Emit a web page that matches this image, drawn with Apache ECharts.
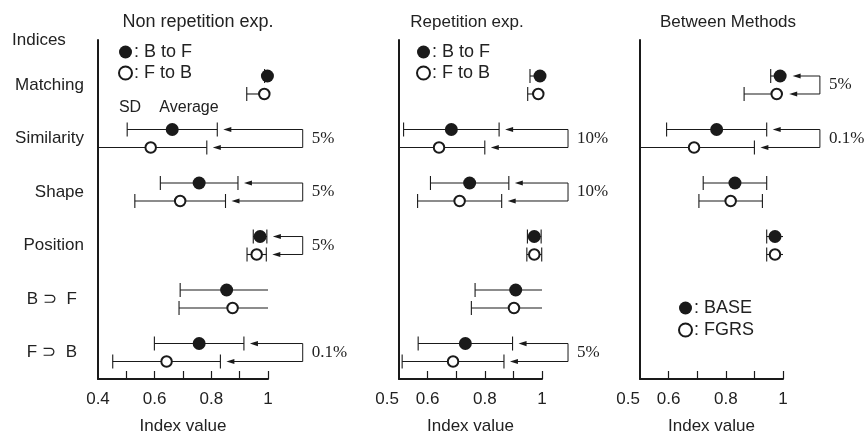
<!DOCTYPE html>
<html><head><meta charset="utf-8">
<script src="https://cdn.jsdelivr.net/npm/echarts@6/dist/echarts.min.js"></script>
<style>html,body{margin:0;padding:0;background:#fff}#c{width:867px;height:435px}</style>
</head><body><div id="c"></div>
<script>
// ---------- data ----------
const indices = ['Matching', 'Similarity', 'Shape', 'Position', 'B \u2283  F', 'F \u2283  B'];
const panelTitles = ['Non repetition exp.', 'Repetition exp.', 'Between Methods'];
const xLabels1 = [0.4, 0.6, 0.8, 1];
const xTicks1 = [0.5, 0.6, 0.7, 0.8, 0.9, 1.0];
const xLabels23 = [0.5, 0.6, 0.8, 1];
const xTicks23 = [0.6, 0.7, 0.8, 0.9, 1.0];

// Non repetition experiment (average, SD)
const nonRepBtoFMean = [0.998, 0.662, 0.757, 0.972, 0.854, 0.757];
const nonRepBtoFSd   = [0.010, 0.159, 0.137, 0.024, 0.164, 0.158];
const nonRepFtoBMean = [0.987, 0.586, 0.690, 0.960, 0.875, 0.642];
const nonRepFtoBSd   = [0.062, 0.198, 0.160, 0.034, 0.189, 0.190];
const nonRepSigRows   = [1, 2, 3, 5];
const nonRepSigLabels = ['5%', '5%', '5%', '0.1%'];

// Repetition experiment
const repBtoFMean = [0.993, 0.683, 0.747, 0.973, 0.908, 0.732];
const repBtoFSd   = [0.035, 0.167, 0.137, 0.024, 0.142, 0.165];
const repFtoBMean = [0.987, 0.640, 0.712, 0.973, 0.902, 0.689];
const repFtoBSd   = [0.037, 0.160, 0.147, 0.026, 0.149, 0.178];
const repSigRows   = [1, 2, 5];
const repSigLabels = ['10%', '10%', '5%'];

// Between methods
const baseMean = [0.990, 0.768, 0.832, 0.972];
const baseSd   = [0.033, 0.175, 0.111, 0.029];
const fgrsMean = [0.978, 0.689, 0.817, 0.972];
const fgrsSd   = [0.114, 0.211, 0.111, 0.029];
const betweenSigRows   = [0, 1];
const betweenSigLabels = ['5%', '0.1%'];

// ---------- layout / style ----------
const SANS = '"Liberation Sans", "DejaVu Sans", Arial, sans-serif';
const SERIF = '"Liberation Serif", "DejaVu Serif", serif';
const INK = '#1a1a1a';
const TXT = '#222';
const ROW_OFF = 0.168;          // vertical offset of the two markers in a row
const Y_MIN = -0.841, Y_MAX = 5.495;

const panels = [
  { left: 98, width: 170, min: 0.4, labels: xLabels1, ticks: xTicks1,
    fMean: nonRepBtoFMean, fSd: nonRepBtoFSd, oMean: nonRepFtoBMean, oSd: nonRepFtoBSd,
    names: ['B to F', 'F to B'], sigRows: nonRepSigRows, sigLabels: nonRepSigLabels, bracketX: 1.1225, titleX: 198 },
  { left: 399, width: 143, min: 0.5, labels: xLabels23, ticks: xTicks23,
    fMean: repBtoFMean, fSd: repBtoFSd, oMean: repFtoBMean, oSd: repFtoBSd,
    names: ['B to F', 'F to B'], sigRows: repSigRows, sigLabels: repSigLabels, bracketX: 1.091, titleX: 467 },
  { left: 640, width: 143, min: 0.5, labels: xLabels23, ticks: xTicks23,
    fMean: baseMean, fSd: baseSd, oMean: fgrsMean, oSd: fgrsSd,
    names: ['BASE', 'FGRS'], sigRows: betweenSigRows, sigLabels: betweenSigLabels, bracketX: 1.129, titleX: 728 }
];

const rowLabelStyle = { fontFamily: SANS, fontSize: 17, color: TXT };
const grid = [], xAxis = [], yAxis = [], series = [];
panels.forEach((p, i) => {
  grid.push({ left: p.left, width: p.width, top: 40, height: 339, containLabel: false, outerBoundsMode: 'none' });
  xAxis.push({
    type: 'value', gridIndex: i, min: p.min, max: 1,
    name: 'Index value', nameLocation: 'middle', nameGap: 39,
    nameTextStyle: { fontFamily: SANS, fontSize: 17, color: TXT },
    axisLine: { onZero: false, lineStyle: { color: INK, width: 2 } },
    axisTick: { show: true, inside: true, length: 8, customValues: p.ticks, lineStyle: { color: INK, width: 1.2 } },
    axisLabel: { customValues: p.labels, margin: 12, fontFamily: SANS, fontSize: 17, color: TXT,
      alignMinLabel: i === 0 ? 'center' : 'right' },
    splitLine: { show: false }
  });
  yAxis.push({
    type: 'value', gridIndex: i, inverse: true, min: Y_MIN, max: Y_MAX,
    axisLine: { show: true, onZero: false, lineStyle: { color: INK, width: 2 } },
    axisTick: { show: false },
    axisLabel: i === 0 ? { show: true, customValues: [0, 1, 2, 3, 4, 5], margin: 14,
      formatter: v => { const r = Math.round(v); const s = indices[r] || ''; return r >= 4 ? '{p|' + s + '}' : s; },
      rich: { p: Object.assign({ padding: [0, 7, 0, 0] }, rowLabelStyle) },
      fontFamily: SANS, fontSize: 17, color: TXT } : { show: false },
    splitLine: { show: false }
  });

  const xmin = p.min;
  const errItem = (means, sds, off) => means.map((m, r) => [m, sds[r], r + off]);
  const renderErr = (params, api) => {
    const m = api.value(0), sd = api.value(1), y = api.value(2);
    let lo = m - sd, hi = m + sd;
    const capLo = lo >= xmin, capHi = hi <= 1;
    lo = Math.max(lo, xmin); hi = Math.min(hi, 1);
    const a = api.coord([lo, y]), b = api.coord([hi, y]);
    const st = { stroke: INK, lineWidth: 1.1 };
    const ch = [{ type: 'line', shape: { x1: a[0], y1: a[1], x2: b[0], y2: b[1] }, style: st }];
    if (capLo) ch.push({ type: 'line', shape: { x1: a[0], y1: a[1] - 7, x2: a[0], y2: a[1] + 7 }, style: st });
    if (capHi) ch.push({ type: 'line', shape: { x1: b[0], y1: b[1] - 7, x2: b[0], y2: b[1] + 7 }, style: st });
    return { type: 'group', children: ch };
  };
  series.push({ type: 'custom', xAxisIndex: i, yAxisIndex: i, data: errItem(p.fMean, p.fSd, -ROW_OFF),
    renderItem: renderErr, z: 2, silent: true, clip: false });
  series.push({ type: 'custom', xAxisIndex: i, yAxisIndex: i, data: errItem(p.oMean, p.oSd, ROW_OFF),
    renderItem: renderErr, z: 2, silent: true, clip: false });

  series.push({ type: 'scatter', name: p.names[0], xAxisIndex: i, yAxisIndex: i,
    data: p.fMean.map((m, r) => [m, r - ROW_OFF]), symbolSize: 13,
    itemStyle: { color: INK, opacity: 1 }, z: 5, clip: false });
  series.push({ type: 'scatter', name: p.names[1], xAxisIndex: i, yAxisIndex: i,
    data: p.oMean.map((m, r) => [m, r + ROW_OFF]), symbolSize: 10.5,
    itemStyle: { color: '#fff', borderColor: INK, borderWidth: 2, opacity: 1 }, z: 5, clip: false });

  // significance brackets
  series.push({
    type: 'custom', xAxisIndex: i, yAxisIndex: i, clip: false, silent: true, z: 3,
    data: p.sigRows.map((r, k) => [r, k]),
    renderItem: (params, api) => {
      const r = api.value(0), k = api.value(1);
      const tip = (m, sd, y) => {
        const up = Math.min(1, m + sd);
        const xu = api.coord([up, y])[0];
        const xc = api.coord([m, y])[0] + 6.5;
        return Math.max(xu, xc) + 6;
      };
      const yF = api.coord([1, r - ROW_OFF])[1], yO = api.coord([1, r + ROW_OFF])[1];
      const tF = tip(p.fMean[r], p.fSd[r], r - ROW_OFF), tO = tip(p.oMean[r], p.oSd[r], r + ROW_OFF);
      const bx = api.coord([p.bracketX, r])[0];
      const st = { stroke: INK, lineWidth: 1, fill: null };
      const head = (t, y) => ({ type: 'polygon', shape: { points: [[t, y], [t + 8, y - 2.6], [t + 8, y + 2.6]] }, style: { fill: INK } });
      return { type: 'group', children: [
        { type: 'polyline', shape: { points: [[tF + 6, yF], [bx, yF], [bx, yO], [tO + 6, yO]] }, style: st },
        head(tF, yF), head(tO, yO),
        { type: 'text', x: bx + 9, y: (yF + yO) / 2, style: { text: p.sigLabels[k], fontFamily: SERIF, fontSize: 17,
          fill: TXT, align: 'left', verticalAlign: 'middle' } }
      ] };
    }
  });
});

const legendItem = (name, filled) => ({ name, icon: 'circle',
  itemStyle: filled ? { color: INK, borderWidth: 0 } : { color: '#fff', borderColor: INK, borderWidth: 2 } });
const legendBase = { orient: 'vertical', selectedMode: false, itemWidth: 13, itemHeight: 13, itemGap: 3,
  formatter: n => ': ' + n, textStyle: { fontFamily: SANS, fontSize: 18, color: TXT, lineHeight: 18, padding: [0, 0, 0, -3] } };

const graphicTexts = [
  { x: panels[0].titleX, y: 22, text: panelTitles[0], align: 'center', size: 18 },
  { x: panels[1].titleX, y: 22, text: panelTitles[1], align: 'center' },
  { x: panels[2].titleX, y: 22, text: panelTitles[2], align: 'center' },
  { x: 12, y: 40, text: 'Indices', align: 'left' },
  { x: 130, y: 108, text: 'SD', align: 'center', size: 16 },
  { x: 189, y: 108, text: 'Average', align: 'center', size: 16 }
].map(t => ({ type: 'text', x: t.x, y: t.y, style: { text: t.text, fontFamily: SANS, fontSize: t.size || 17,
  fill: TXT, align: t.align, verticalAlign: 'middle' } }));

const chart = echarts.init(document.getElementById('c'), null, { renderer: 'canvas' });
chart.setOption({
  backgroundColor: '#fff',
  animation: false,
  textStyle: { fontFamily: SANS },
  grid, xAxis, yAxis, series,
  legend: [
    Object.assign({}, legendBase, { left: 113, top: 38, data: [legendItem('B to F', true), legendItem('F to B', false)] }),
    Object.assign({}, legendBase, { left: 411, top: 38, data: [legendItem('B to F', true), legendItem('F to B', false)] }),
    Object.assign({}, legendBase, { left: 673, top: 294, itemGap: 4, data: [legendItem('BASE', true), legendItem('FGRS', false)] })
  ],
  graphic: graphicTexts
});
</script>
</body></html>
